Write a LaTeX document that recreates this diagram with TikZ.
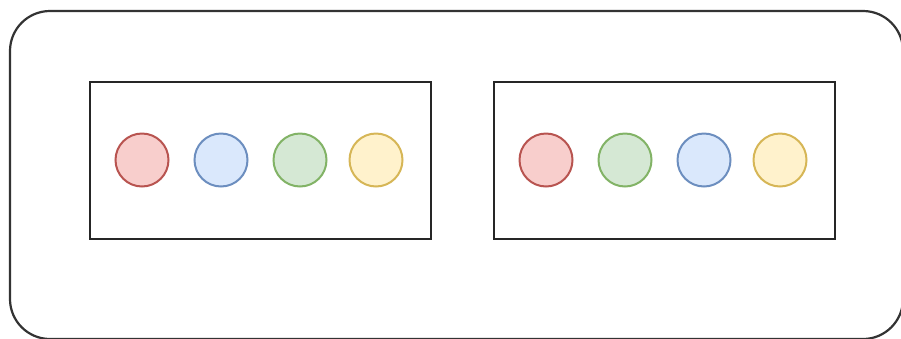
\documentclass[tikz,border=0pt]{standalone}
\usetikzlibrary{positioning}
\definecolor{redfill}{HTML}{F8CECC}\definecolor{redline}{HTML}{B85450}
\definecolor{bluefill}{HTML}{DAE8FC}\definecolor{blueline}{HTML}{6C8EBF}
\definecolor{greenfill}{HTML}{D5E8D4}\definecolor{greenline}{HTML}{82B366}
\definecolor{yellowfill}{HTML}{FFF2CC}\definecolor{yellowline}{HTML}{D6B656}
\tikzset{
  dot/.style={circle, minimum size=53pt, inner sep=0pt, line width=2pt},
  rdot/.style={dot, fill=redfill, draw=redline},
  bdot/.style={dot, fill=bluefill, draw=blueline},
  gdot/.style={dot, fill=greenfill, draw=greenline},
  ydot/.style={dot, fill=yellowfill, draw=yellowline},
  inbox/.style={draw=black!85, line width=2.2pt, minimum width=341pt, minimum height=157pt, inner sep=0pt},
}
\begin{document}
\begin{tikzpicture}[x=1pt,y=-1pt]
\useasboundingbox (0,0) rectangle (901,338);
\begin{scope}
\clip (0,0) rectangle (901,338);
\draw[line width=2.2pt, draw=black!80, rounded corners=40pt] (10,11) rectangle (903,339);
\end{scope}
\node[inbox] (left) at (260.5,160.5) {};
\node[inbox] (right) at (664.5,160.5) {};
\node[rdot] (l1) at (142,160) {};
\node[bdot] (l2) at (221,160) {};
\node[gdot] (l3) at (300,160) {};
\node[ydot] (l4) at (376,160) {};
\node[rdot] (r1) at (546,160) {};
\node[gdot] (r2) at (625,160) {};
\node[bdot] (r3) at (704,160) {};
\node[ydot] (r4) at (780,160) {};
\end{tikzpicture}
\end{document}
